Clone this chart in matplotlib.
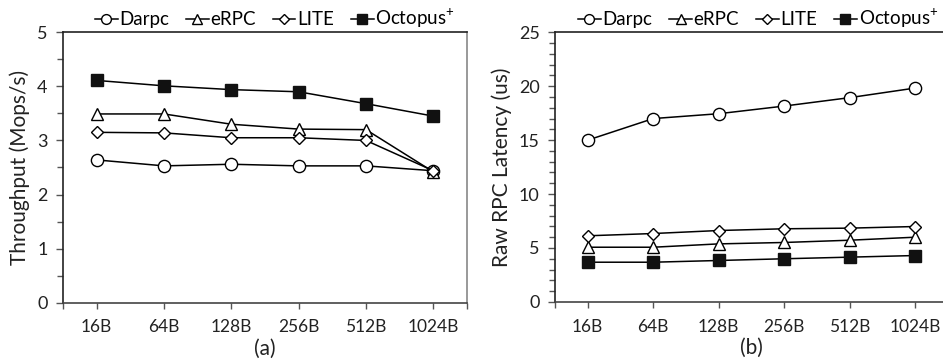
import matplotlib
matplotlib.use("Agg")
import matplotlib.pyplot as plt
from matplotlib.ticker import MultipleLocator

plt.rcParams['font.family'] = ['Lato', 'DejaVu Sans']
plt.rcParams['mathtext.fontset'] = 'custom'
plt.rcParams['mathtext.rm'] = 'Lato'

categories = ["16B", "64B", "128B", "256B", "512B", "1024B"]
series_names = ["Darpc", "eRPC", "LITE", "Octopus$^{+}$"]

thr_darpc = [2.64, 2.53, 2.56, 2.53, 2.53, 2.44]
thr_erpc = [3.49, 3.49, 3.30, 3.21, 3.20, 2.42]
thr_lite = [3.15, 3.14, 3.05, 3.05, 3.00, 2.44]
thr_octopus = [4.11, 4.01, 3.94, 3.90, 3.68, 3.45]

lat_darpc = [15.0, 17.0, 17.45, 18.16, 18.94, 19.83]
lat_erpc = [5.07, 5.07, 5.38, 5.51, 5.72, 6.0]
lat_lite = [6.13, 6.34, 6.62, 6.78, 6.84, 6.99]
lat_octopus = [3.68, 3.68, 3.84, 4.0, 4.15, 4.3]

styles = [
    dict(marker='o', mfc='white', mec='black', ms=8.8),
    dict(marker='^', mfc='white', mec='black', ms=9),
    dict(marker='D', mfc='white', mec='black', ms=6.5),
    dict(marker='s', mfc='#111111', mec='#111111', ms=8.8),
]

fig = plt.figure(figsize=(9.43, 3.64), dpi=100)
ax1 = fig.add_axes([0.0668, 0.1684, 0.4284, 0.7429])
ax2 = fig.add_axes([0.5885, 0.1706, 0.4168, 0.7407])

x = list(range(len(categories)))

def setup(ax, data, ymax, major, minor, ylabel, sub, lx):
    for vals, name, st in zip(data, series_names, styles):
        ax.plot(x, vals, color='black', lw=1.1, label=name, mew=1.0, **st)
    ax.set_xlim(-0.5, 5.5)
    ax.set_ylim(0, ymax)
    ax.yaxis.set_major_locator(MultipleLocator(major))
    ax.yaxis.set_minor_locator(MultipleLocator(minor))
    ax.set_xticks(x)
    ax.set_xticklabels(categories)
    ax.set_xticks([-0.5, 5.5], minor=True)
    ax.tick_params(axis='x', which='both', direction='out', length=4, width=1, color='#555555',
                   labelsize=12.5, pad=8, labelcolor='#222222')
    ax.tick_params(axis='y', which='major', direction='out', length=5, width=1, color='#555555',
                   labelsize=13, pad=6, labelcolor='#222222')
    ax.tick_params(axis='y', which='minor', direction='out', length=4, width=1, color='#555555')
    ax.set_ylabel(ylabel, fontsize=15, color='#222222', labelpad=5)
    ax.spines['left'].set_color('#222222')
    ax.spines['bottom'].set_color('#444444')
    ax.spines['top'].set_color('#222222')
    ax.spines['right'].set_color('#888888')
    for s in ax.spines.values():
        s.set_linewidth(1.2)
    ax.text(0.5, -0.135, sub, transform=ax.transAxes, ha='center', va='top', fontsize=15,
            color='#222222')
    ax.legend(loc='lower center', bbox_to_anchor=(lx, 1.0), ncol=4, frameon=False,
              fontsize=13.5, handlelength=1.2, handletextpad=0.1, columnspacing=0.9,
              borderaxespad=0.0, borderpad=0.1, markerscale=0.8)

setup(ax1, [thr_darpc, thr_erpc, thr_lite, thr_octopus], 5, 1, 0.5, "Throughput (Mops/s)", "(a)", 0.525)
setup(ax2, [lat_darpc, lat_erpc, lat_lite, lat_octopus], 25, 5, 1, "Raw RPC Latency (us)", "(b)", 0.517)

fig.savefig("out.png", dpi=100)
